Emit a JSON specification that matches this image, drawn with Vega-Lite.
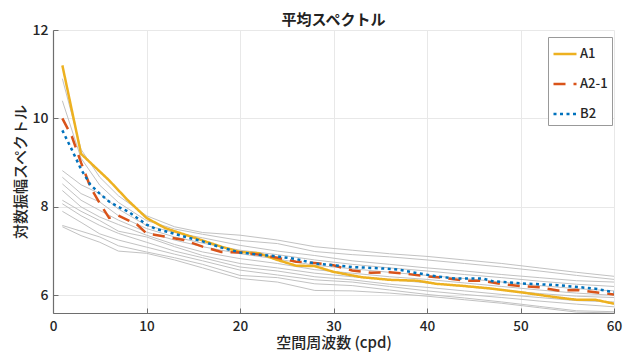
{
  "$schema": "https://vega.github.io/schema/vega-lite/v6.json",
  "width": 561,
  "height": 283,
  "autosize": {"type": "none"},
  "padding": {"left": 53, "top": 30, "right": 18, "bottom": 43},
  "background": "white",
  "title": {"text": "平均スペクトル", "fontSize": 15, "fontWeight": "bold", "font": "Noto Sans CJK JP", "color": "#222222", "offset": -5, "anchor": "middle"},
  "config": {"view": {"stroke": null}, "font": "Noto Sans CJK JP"},
  "datasets": {
    "gray": [
      {"s":"g1","x":1,"y":10.9},{"s":"g1","x":3,"y":9.3},{"s":"g1","x":5,"y":8.67},{"s":"g1","x":7,"y":8.25},{"s":"g1","x":10,"y":7.8},{"s":"g1","x":13,"y":7.55},{"s":"g1","x":16,"y":7.42},{"s":"g1","x":20,"y":7.36},{"s":"g1","x":24,"y":7.25},{"s":"g1","x":28,"y":7.1},{"s":"g1","x":32,"y":7.02},{"s":"g1","x":36,"y":6.94},{"s":"g1","x":40,"y":6.88},{"s":"g1","x":44,"y":6.8},{"s":"g1","x":48,"y":6.72},{"s":"g1","x":52,"y":6.62},{"s":"g1","x":56,"y":6.52},{"s":"g1","x":60,"y":6.43},
      {"s":"g2","x":1,"y":10.4},{"s":"g2","x":3,"y":9.1},{"s":"g2","x":5,"y":8.49},{"s":"g2","x":7,"y":8.1},{"s":"g2","x":10,"y":7.69},{"s":"g2","x":13,"y":7.5},{"s":"g2","x":16,"y":7.38},{"s":"g2","x":20,"y":7.24},{"s":"g2","x":24,"y":7.17},{"s":"g2","x":28,"y":6.99},{"s":"g2","x":32,"y":6.92},{"s":"g2","x":36,"y":6.87},{"s":"g2","x":40,"y":6.8},{"s":"g2","x":44,"y":6.72},{"s":"g2","x":48,"y":6.64},{"s":"g2","x":52,"y":6.55},{"s":"g2","x":56,"y":6.45},{"s":"g2","x":60,"y":6.36},
      {"s":"g3","x":1,"y":8.82},{"s":"g3","x":3,"y":8.5},{"s":"g3","x":5,"y":8.3},{"s":"g3","x":7,"y":7.95},{"s":"g3","x":10,"y":7.58},{"s":"g3","x":13,"y":7.42},{"s":"g3","x":16,"y":7.3},{"s":"g3","x":20,"y":7.13},{"s":"g3","x":24,"y":7.0},{"s":"g3","x":28,"y":6.9},{"s":"g3","x":32,"y":6.78},{"s":"g3","x":36,"y":6.7},{"s":"g3","x":40,"y":6.62},{"s":"g3","x":44,"y":6.55},{"s":"g3","x":48,"y":6.47},{"s":"g3","x":52,"y":6.4},{"s":"g3","x":56,"y":6.33},{"s":"g3","x":60,"y":6.3},
      {"s":"g4","x":1,"y":8.67},{"s":"g4","x":3,"y":8.3},{"s":"g4","x":5,"y":8.11},{"s":"g4","x":7,"y":7.8},{"s":"g4","x":10,"y":7.51},{"s":"g4","x":13,"y":7.32},{"s":"g4","x":16,"y":7.18},{"s":"g4","x":20,"y":7.02},{"s":"g4","x":24,"y":6.92},{"s":"g4","x":28,"y":6.8},{"s":"g4","x":32,"y":6.7},{"s":"g4","x":36,"y":6.62},{"s":"g4","x":40,"y":6.55},{"s":"g4","x":44,"y":6.47},{"s":"g4","x":48,"y":6.4},{"s":"g4","x":52,"y":6.32},{"s":"g4","x":56,"y":6.25},{"s":"g4","x":60,"y":6.2},
      {"s":"g5","x":1,"y":8.52},{"s":"g5","x":3,"y":8.15},{"s":"g5","x":5,"y":7.92},{"s":"g5","x":7,"y":7.7},{"s":"g5","x":10,"y":7.43},{"s":"g5","x":13,"y":7.25},{"s":"g5","x":16,"y":7.1},{"s":"g5","x":20,"y":6.94},{"s":"g5","x":24,"y":6.82},{"s":"g5","x":28,"y":6.68},{"s":"g5","x":32,"y":6.6},{"s":"g5","x":36,"y":6.52},{"s":"g5","x":40,"y":6.45},{"s":"g5","x":44,"y":6.38},{"s":"g5","x":48,"y":6.3},{"s":"g5","x":52,"y":6.22},{"s":"g5","x":56,"y":6.15},{"s":"g5","x":60,"y":6.1},
      {"s":"g6","x":1,"y":8.37},{"s":"g6","x":3,"y":8.0},{"s":"g6","x":5,"y":7.77},{"s":"g6","x":7,"y":7.6},{"s":"g6","x":10,"y":7.36},{"s":"g6","x":13,"y":7.15},{"s":"g6","x":16,"y":6.98},{"s":"g6","x":20,"y":6.83},{"s":"g6","x":24,"y":6.72},{"s":"g6","x":28,"y":6.58},{"s":"g6","x":32,"y":6.5},{"s":"g6","x":36,"y":6.42},{"s":"g6","x":40,"y":6.36},{"s":"g6","x":44,"y":6.28},{"s":"g6","x":48,"y":6.2},{"s":"g6","x":52,"y":6.12},{"s":"g6","x":56,"y":6.05},{"s":"g6","x":60,"y":6.0},
      {"s":"g7","x":1,"y":8.15},{"s":"g7","x":3,"y":7.9},{"s":"g7","x":5,"y":7.69},{"s":"g7","x":7,"y":7.45},{"s":"g7","x":10,"y":7.32},{"s":"g7","x":13,"y":7.1},{"s":"g7","x":16,"y":6.9},{"s":"g7","x":20,"y":6.72},{"s":"g7","x":24,"y":6.62},{"s":"g7","x":28,"y":6.5},{"s":"g7","x":32,"y":6.42},{"s":"g7","x":36,"y":6.36},{"s":"g7","x":40,"y":6.28},{"s":"g7","x":44,"y":6.2},{"s":"g7","x":48,"y":6.12},{"s":"g7","x":52,"y":6.04},{"s":"g7","x":56,"y":5.98},{"s":"g7","x":60,"y":5.95},
      {"s":"g8","x":1,"y":8.07},{"s":"g8","x":3,"y":7.8},{"s":"g8","x":5,"y":7.58},{"s":"g8","x":7,"y":7.4},{"s":"g8","x":10,"y":7.2},{"s":"g8","x":13,"y":7.0},{"s":"g8","x":16,"y":6.85},{"s":"g8","x":20,"y":6.64},{"s":"g8","x":24,"y":6.55},{"s":"g8","x":28,"y":6.42},{"s":"g8","x":32,"y":6.35},{"s":"g8","x":36,"y":6.25},{"s":"g8","x":40,"y":6.18},{"s":"g8","x":44,"y":6.1},{"s":"g8","x":48,"y":6.02},{"s":"g8","x":52,"y":5.95},{"s":"g8","x":56,"y":5.88},{"s":"g8","x":60,"y":5.85},
      {"s":"g9","x":1,"y":7.9},{"s":"g9","x":3,"y":7.65},{"s":"g9","x":5,"y":7.39},{"s":"g9","x":7,"y":7.25},{"s":"g9","x":10,"y":7.09},{"s":"g9","x":13,"y":6.93},{"s":"g9","x":16,"y":6.78},{"s":"g9","x":20,"y":6.57},{"s":"g9","x":24,"y":6.46},{"s":"g9","x":28,"y":6.35},{"s":"g9","x":32,"y":6.3},{"s":"g9","x":36,"y":6.2},{"s":"g9","x":40,"y":6.1},{"s":"g9","x":44,"y":6.02},{"s":"g9","x":48,"y":5.95},{"s":"g9","x":52,"y":5.87},{"s":"g9","x":56,"y":5.8},{"s":"g9","x":60,"y":5.74},
      {"s":"g10","x":1,"y":7.58},{"s":"g10","x":3,"y":7.45},{"s":"g10","x":5,"y":7.32},{"s":"g10","x":7,"y":7.12},{"s":"g10","x":10,"y":6.98},{"s":"g10","x":13,"y":6.85},{"s":"g10","x":16,"y":6.7},{"s":"g10","x":20,"y":6.45},{"s":"g10","x":24,"y":6.4},{"s":"g10","x":28,"y":6.26},{"s":"g10","x":32,"y":6.22},{"s":"g10","x":36,"y":6.12},{"s":"g10","x":40,"y":6.02},{"s":"g10","x":44,"y":5.94},{"s":"g10","x":48,"y":5.85},{"s":"g10","x":52,"y":5.75},{"s":"g10","x":56,"y":5.65},{"s":"g10","x":60,"y":5.63},
      {"s":"g11","x":1,"y":7.55},{"s":"g11","x":3,"y":7.35},{"s":"g11","x":5,"y":7.2},{"s":"g11","x":7,"y":7.0},{"s":"g11","x":10,"y":6.95},{"s":"g11","x":13,"y":6.8},{"s":"g11","x":16,"y":6.62},{"s":"g11","x":20,"y":6.38},{"s":"g11","x":24,"y":6.3},{"s":"g11","x":28,"y":6.11},{"s":"g11","x":32,"y":6.1},{"s":"g11","x":36,"y":6.05},{"s":"g11","x":40,"y":5.98},{"s":"g11","x":44,"y":5.9},{"s":"g11","x":48,"y":5.82},{"s":"g11","x":52,"y":5.72},{"s":"g11","x":56,"y":5.62},{"s":"g11","x":60,"y":5.6}
    ],
    "main": [
      {"s":"A1","x":1,"y":11.2},{"s":"A1","x":3,"y":9.2},{"s":"A1","x":4,"y":9.0},{"s":"A1","x":6,"y":8.6},{"s":"A1","x":8,"y":8.15},{"s":"A1","x":10,"y":7.75},{"s":"A1","x":12,"y":7.52},{"s":"A1","x":14,"y":7.38},{"s":"A1","x":16,"y":7.24},{"s":"A1","x":18,"y":7.1},{"s":"A1","x":20,"y":6.98},{"s":"A1","x":22,"y":6.95},{"s":"A1","x":24,"y":6.8},{"s":"A1","x":26,"y":6.67},{"s":"A1","x":28,"y":6.66},{"s":"A1","x":30,"y":6.53},{"s":"A1","x":33,"y":6.41},{"s":"A1","x":36,"y":6.35},{"s":"A1","x":39,"y":6.33},{"s":"A1","x":41,"y":6.26},{"s":"A1","x":44,"y":6.21},{"s":"A1","x":47,"y":6.15},{"s":"A1","x":50,"y":6.07},{"s":"A1","x":52,"y":6.01},{"s":"A1","x":54,"y":5.95},{"s":"A1","x":56,"y":5.9},{"s":"A1","x":58,"y":5.9},{"s":"A1","x":60,"y":5.81},
      {"s":"A2-1","x":1,"y":10.0},{"s":"A2-1","x":2,"y":9.6},{"s":"A2-1","x":3,"y":9.0},{"s":"A2-1","x":4,"y":8.45},{"s":"A2-1","x":5,"y":8.08},{"s":"A2-1","x":6,"y":7.75},{"s":"A2-1","x":7,"y":7.8},{"s":"A2-1","x":9,"y":7.6},{"s":"A2-1","x":10,"y":7.4},{"s":"A2-1","x":12,"y":7.33},{"s":"A2-1","x":14,"y":7.25},{"s":"A2-1","x":16,"y":7.1},{"s":"A2-1","x":18,"y":6.98},{"s":"A2-1","x":20,"y":6.97},{"s":"A2-1","x":22,"y":6.92},{"s":"A2-1","x":24,"y":6.85},{"s":"A2-1","x":26,"y":6.76},{"s":"A2-1","x":28,"y":6.73},{"s":"A2-1","x":30,"y":6.68},{"s":"A2-1","x":32,"y":6.56},{"s":"A2-1","x":34,"y":6.51},{"s":"A2-1","x":36,"y":6.52},{"s":"A2-1","x":38,"y":6.48},{"s":"A2-1","x":40,"y":6.43},{"s":"A2-1","x":42,"y":6.39},{"s":"A2-1","x":44,"y":6.33},{"s":"A2-1","x":46,"y":6.33},{"s":"A2-1","x":48,"y":6.25},{"s":"A2-1","x":50,"y":6.21},{"s":"A2-1","x":52,"y":6.18},{"s":"A2-1","x":54,"y":6.11},{"s":"A2-1","x":56,"y":6.12},{"s":"A2-1","x":58,"y":6.07},{"s":"A2-1","x":60,"y":6.02},
      {"s":"B2","x":1,"y":9.73},{"s":"B2","x":2,"y":9.3},{"s":"B2","x":3,"y":8.85},{"s":"B2","x":4,"y":8.5},{"s":"B2","x":5,"y":8.3},{"s":"B2","x":6,"y":8.12},{"s":"B2","x":7,"y":8.0},{"s":"B2","x":8,"y":7.9},{"s":"B2","x":9,"y":7.75},{"s":"B2","x":10,"y":7.6},{"s":"B2","x":11,"y":7.5},{"s":"B2","x":12,"y":7.45},{"s":"B2","x":14,"y":7.33},{"s":"B2","x":16,"y":7.22},{"s":"B2","x":18,"y":7.08},{"s":"B2","x":20,"y":6.97},{"s":"B2","x":22,"y":6.92},{"s":"B2","x":24,"y":6.88},{"s":"B2","x":26,"y":6.82},{"s":"B2","x":28,"y":6.72},{"s":"B2","x":30,"y":6.68},{"s":"B2","x":32,"y":6.64},{"s":"B2","x":35,"y":6.61},{"s":"B2","x":37,"y":6.58},{"s":"B2","x":39,"y":6.5},{"s":"B2","x":41,"y":6.43},{"s":"B2","x":43,"y":6.38},{"s":"B2","x":46,"y":6.38},{"s":"B2","x":47,"y":6.32},{"s":"B2","x":50,"y":6.27},{"s":"B2","x":54,"y":6.23},{"s":"B2","x":58,"y":6.15},{"s":"B2","x":60,"y":6.07}
    ]
  },
  "layer": [
    {
      "data": {"name": "gray"},
      "mark": {"type": "line", "color": "#c2c2c2", "strokeWidth": 1, "clip": true},
      "encoding": {
        "x": {"field": "x", "type": "quantitative", "scale": {"domain": [0, 60], "nice": false, "zero": false},
          "axis": {"title": "空間周波数 (cpd)", "values": [0, 10, 20, 30, 40, 50, 60], "grid": true, "gridColor": "#e8e8e8", "domainColor": "#6e6e6e", "domainWidth": 1.2, "tickColor": "#6e6e6e", "tickSize": -5, "labelPadding": 11, "labelFlush": false, "labelOverlap": false, "labelFontSize": 13.5, "labelFontWeight": 500, "labelColor": "#262626", "labelFont": "Noto Sans CJK JP", "titleFontSize": 15, "titleFontWeight": 500, "titleColor": "#262626", "titleFont": "Noto Sans CJK JP", "titlePadding": 3}},
        "y": {"field": "y", "type": "quantitative", "scale": {"domain": [5.6, 12], "nice": false, "zero": false},
          "axis": {"title": "対数振幅スペクトル", "values": [6, 8, 10, 12], "grid": true, "gridColor": "#e8e8e8", "domainColor": "#6e6e6e", "domainWidth": 1.2, "tickColor": "#6e6e6e", "tickSize": -5, "labelPadding": 10, "labelFlush": false, "labelOverlap": false, "labelFontSize": 14, "labelFontWeight": 500, "labelColor": "#262626", "labelFont": "Noto Sans CJK JP", "titleFontSize": 15, "titleFontWeight": 500, "titleColor": "#262626", "titleFont": "Noto Sans CJK JP", "titlePadding": 4}},
        "detail": {"field": "s", "type": "nominal"}
      }
    },
    {
      "data": {"name": "main"},
      "mark": {"type": "line", "strokeWidth": 2.5, "clip": true, "strokeCap": "butt"},
      "encoding": {
        "x": {"field": "x", "type": "quantitative"},
        "y": {"field": "y", "type": "quantitative"},
        "color": {"field": "s", "type": "nominal",
          "scale": {"domain": ["A1", "A2-1", "B2"], "range": ["#EDB120", "#D95319", "#0072BD"]},
          "legend": {"orient": "none", "legendX": 495, "legendY": 7, "title": null, "symbolType": "stroke", "symbolSize": 529, "symbolStrokeWidth": 2.5, "labelFontSize": 13, "labelFontWeight": 500, "labelFont": "Noto Sans CJK JP", "labelColor": "#262626", "padding": 4, "rowPadding": 10, "labelOffset": 2, "strokeColor": "#999999", "fillColor": "white", "cornerRadius": 0}},
        "strokeDash": {"field": "s", "type": "nominal",
          "scale": {"domain": ["A1", "A2-1", "B2"], "range": [[1, 0], [12, 8], [3, 3.5]]},
          "legend": {"orient": "none", "legendX": 495, "legendY": 7, "title": null, "symbolType": "stroke", "symbolSize": 529, "symbolStrokeWidth": 2.5, "labelFontSize": 13, "labelFontWeight": 500, "labelFont": "Noto Sans CJK JP", "labelColor": "#262626", "padding": 4, "rowPadding": 10, "labelOffset": 2, "strokeColor": "#999999", "fillColor": "white", "cornerRadius": 0}}
      }
    }
  ]
}
